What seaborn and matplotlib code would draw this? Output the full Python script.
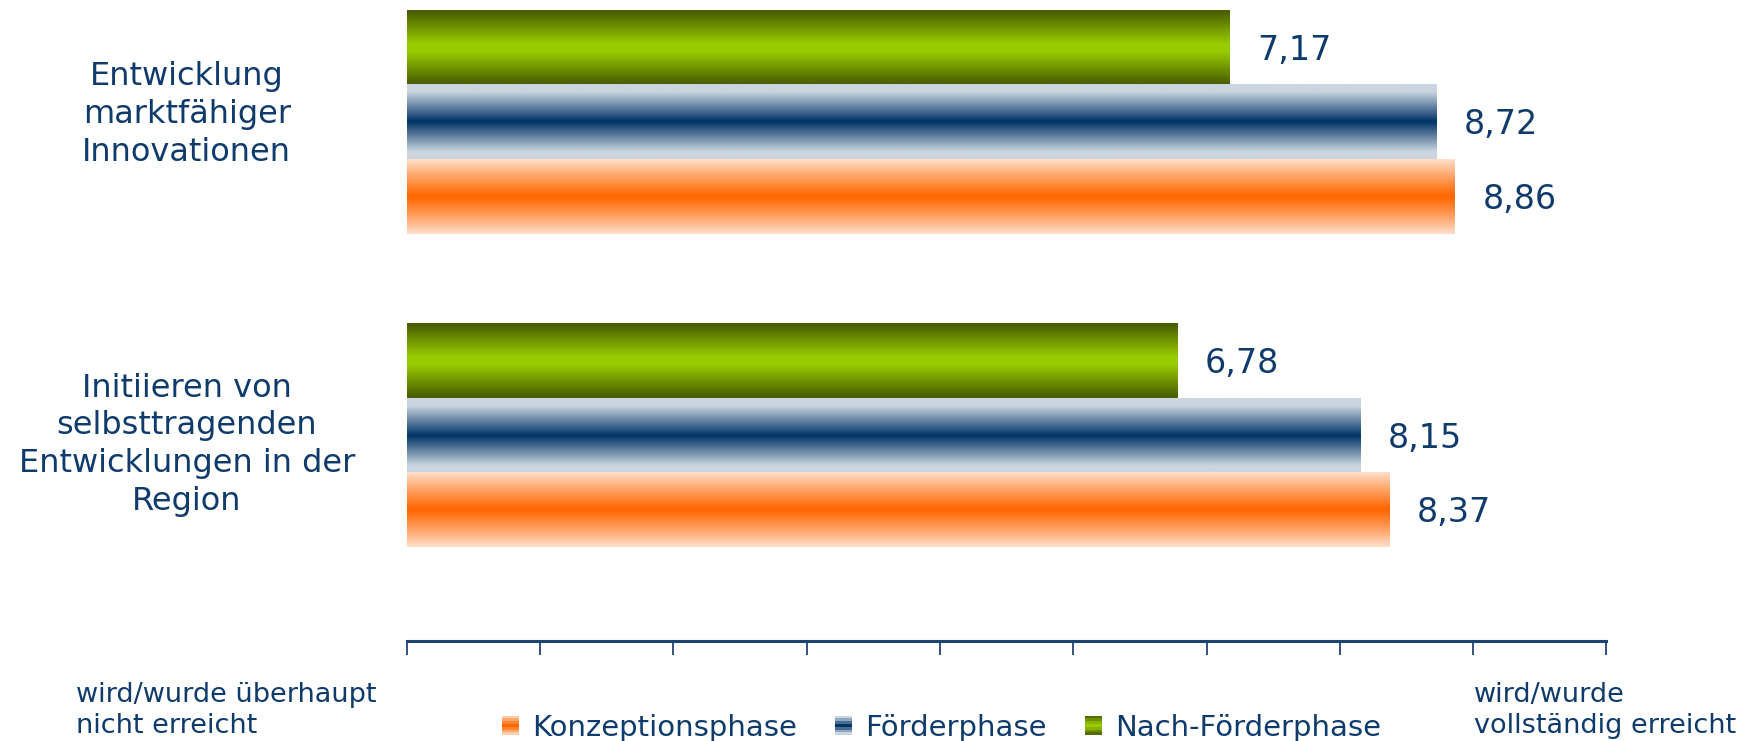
import numpy as np
import pandas as pd
import matplotlib
matplotlib.use("Agg")
import matplotlib.pyplot as plt
import seaborn as sns
from matplotlib.patches import Rectangle, Patch
from matplotlib.legend_handler import HandlerBase
from matplotlib.colors import to_rgb
from matplotlib.transforms import blended_transform_factory

# --- data -------------------------------------------------------------------
bereiche = [
    "Entwicklung\nmarktfähiger\nInnovationen",
    "Initiieren von\nselbsttragenden\nEntwicklungen in der\nRegion",
]
phasen = ["Konzeptionsphase", "Förderphase", "Nach-Förderphase"]
konzeption = [8.86, 8.37]
foerderung = [8.72, 8.15]
nach_foerderung = [7.17, 6.78]
skala_min, skala_max = 1, 10
label_links = "wird/wurde überhaupt\nnicht erreicht"
label_rechts = "wird/wurde\nvollständig erreicht"

df = pd.DataFrame({
    "Bereich": bereiche * 3,
    "Phase": [phasen[0]] * 2 + [phasen[1]] * 2 + [phasen[2]] * 2,
    "Wert": konzeption + foerderung + nach_foerderung,
})

# --- style ------------------------------------------------------------------
sns.set_theme(style="white")
plt.rcParams["font.family"] = ["DejaVu Sans"]
NAVY = "#0f3b6c"

# edge colour, centre colour, reach of the fade, exponent, flat centre part
gradients = {
    "Konzeptionsphase": ("#ffe0cc", "#ff6600", 1.0, 1.1, 0.0),
    "Förderphase": ("#cbd5e0", "#003366", 0.8, 1.0, 0.0),
    "Nach-Förderphase": ("#4a5f00", "#99cc00", 0.85, 1.0, 0.1),
}


def band_colors(phase, n=64):
    edge, centre, reach, power, flat = gradients[phase]
    e, c = np.array(to_rgb(edge)), np.array(to_rgb(centre))
    t = (np.arange(n) + 0.5) / n
    d = np.abs(t - 0.5) * 2
    w = np.clip((d - flat) / reach, 0, 1) ** power
    return c[None, :] * (1 - w[:, None]) + e[None, :] * w[:, None]


fig = plt.figure(figsize=(17.42, 7.41), dpi=100)
ax = fig.add_axes([0.2334, 0.135, 0.6888, 0.865])

hue_order = ["Nach-Förderphase", "Förderphase", "Konzeptionsphase"]
sns.barplot(data=df, y="Bereich", x="Wert", hue="Phase", hue_order=hue_order,
            order=bereiche, orient="h", width=0.7125, errorbar=None,
            saturation=1, legend=False, ax=ax)

# fill each bar with a horizontal-band gradient and label it with its value
for phase, container in zip(hue_order, ax.containers):
    cols = band_colors(phase)
    for patch in container.patches:
        x0, y0 = patch.get_x(), patch.get_y()
        w, h = patch.get_width(), patch.get_height()
        x_end = x0 + w
        x_start = max(x0, skala_min)
        ax.imshow(cols[:, None, :], extent=(x_start, x_end, y0 + h, y0),
                  aspect="auto", interpolation="bilinear", zorder=2)
        patch.set_facecolor("none")
        patch.set_edgecolor("none")
        ax.annotate(f"{x_end:.2f}".replace(".", ","),
                    xy=(x_end, y0 + h / 2), xytext=(20, -2),
                    textcoords="offset points", ha="left", va="center",
                    fontsize=24, color=NAVY)

ax.set_xlim(skala_min, skala_max)
ax.set_ylim(1.655, -0.389)
ax.set_xticks(np.arange(skala_min, skala_max + 1))
ax.set_xticklabels([])
ax.set_yticks([])
ax.set_xlabel("")
ax.set_ylabel("")
for side in ["top", "right", "left"]:
    ax.spines[side].set_visible(False)
ax.spines["bottom"].set_color("#1f4474")
ax.spines["bottom"].set_linewidth(2.2)
ax.tick_params(axis="x", which="major", direction="out", length=10,
               width=1.3, color="#1f4474", bottom=True)
ax.set_facecolor("none")

# category names to the left of the bars
ytrans = blended_transform_factory(fig.transFigure, ax.transData)
label_shift = [-0.025, 0.03]
for i, name in enumerate(bereiche):
    ax.text(0.1072, i + label_shift[i], name, transform=ytrans, ha="center",
            va="center", fontsize=23, color=NAVY, linespacing=1.29)

# scale end descriptions
fig.text(0.0436, 0.041, label_links, ha="left", va="center", fontsize=19.5,
         color=NAVY, linespacing=1.25)
fig.text(0.8462, 0.041, label_rechts, ha="left", va="center", fontsize=19.5,
         color=NAVY, linespacing=1.25)


class GradientHandler(HandlerBase):
    def __init__(self, colors):
        super().__init__()
        self.colors = colors

    def create_artists(self, legend, orig_handle, xdescent, ydescent,
                       width, height, fontsize, trans):
        n = len(self.colors)
        arts = []
        for i, c in enumerate(self.colors):
            arts.append(Rectangle((-xdescent, -ydescent + (n - 1 - i) * height / n),
                                  width, height / n, facecolor=c,
                                  edgecolor="none", transform=trans))
        return arts


handles, hmap = [], {}
for phase in phasen:
    hdl = Patch(label=phase)
    handles.append(hdl)
    hmap[hdl] = GradientHandler([tuple(c) for c in band_colors(phase, n=7)])

fig.legend(handles=handles, handler_map=hmap, loc="center",
           bbox_to_anchor=(0.5405, 0.018), ncol=3, frameon=False,
           fontsize=21, handlelength=0.6, handleheight=0.65,
           handletextpad=0.45, columnspacing=1.3, borderpad=0,
           labelcolor=NAVY)

fig.savefig("out.png", dpi=100)
